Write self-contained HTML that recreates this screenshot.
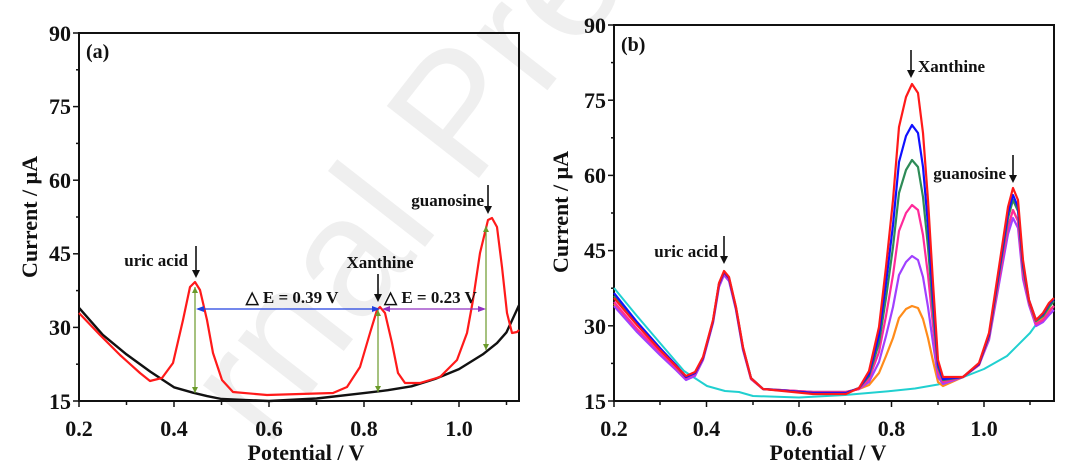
<!DOCTYPE html>
<html><head><meta charset="utf-8"><style>
html,body{margin:0;padding:0;background:#fff;width:1092px;height:466px;overflow:hidden}
svg{display:block}
text{font-family:"Liberation Serif",serif;font-weight:bold;fill:#111}
</style></head><body>
<svg width="1092" height="466" viewBox="0 0 1092 466" xmlns="http://www.w3.org/2000/svg">
<text x="0" y="0" transform="translate(450,215) rotate(-52)" font-size="170" style="fill:#efefef;font-family:'Liberation Sans',sans-serif;font-weight:normal" text-anchor="middle">rnal Pre</text>

<!-- Panel a -->
<g stroke="#111" stroke-width="1.5">
<rect x="79" y="33" width="440" height="368" fill="none" stroke-width="2"/>
<line x1="79" y1="33" x2="73" y2="33"/><line x1="79" y1="69.8" x2="76" y2="69.8"/><line x1="79" y1="106.6" x2="73" y2="106.6"/><line x1="79" y1="143.4" x2="76" y2="143.4"/><line x1="79" y1="180.2" x2="73" y2="180.2"/><line x1="79" y1="217" x2="76" y2="217"/><line x1="79" y1="253.8" x2="73" y2="253.8"/><line x1="79" y1="290.6" x2="76" y2="290.6"/><line x1="79" y1="327.4" x2="73" y2="327.4"/><line x1="79" y1="364.2" x2="76" y2="364.2"/><line x1="79" y1="401" x2="73" y2="401"/>
<line x1="79" y1="401" x2="79" y2="407"/><line x1="126.5" y1="401" x2="126.5" y2="405"/><line x1="174" y1="401" x2="174" y2="407"/><line x1="221.5" y1="401" x2="221.5" y2="405"/><line x1="269" y1="401" x2="269" y2="407"/><line x1="316.5" y1="401" x2="316.5" y2="405"/><line x1="364" y1="401" x2="364" y2="407"/><line x1="411.5" y1="401" x2="411.5" y2="405"/><line x1="459" y1="401" x2="459" y2="407"/><line x1="506.5" y1="401" x2="506.5" y2="405"/>
</g>
<g font-size="22" text-anchor="end">
<text x="71" y="41">90</text><text x="71" y="114">75</text><text x="71" y="188">60</text><text x="71" y="261">45</text><text x="71" y="335">30</text><text x="71" y="409">15</text>
</g>
<g font-size="22" text-anchor="middle">
<text x="79" y="436">0.2</text><text x="174" y="436">0.4</text><text x="269" y="436">0.6</text><text x="364" y="436">0.8</text><text x="459" y="436">1.0</text>
</g>
<text x="306" y="460" font-size="22" text-anchor="middle">Potential / V</text>
<text transform="translate(37,217) rotate(-90)" font-size="22" text-anchor="middle">Current / μA</text>
<text x="86" y="58" font-size="20">(a)</text>

<path fill="none" stroke="#111" stroke-width="2.4" stroke-linejoin="round" d="M79,307.8 L102.75,334.8 L126.5,354.4 L150.25,371.6 L174,387.3 L193,392.7 L207,396.1 L221.5,399 L269,401 L316.5,398.5 L364,393.1 L387.75,390.2 L411.5,386.3 L435.25,378.9 L459,369.1 L482.75,354.4 L497,343.1 L506.5,332.3 L519,305.3"/>
<path fill="none" stroke="#ff1a1a" stroke-width="2.2" stroke-linejoin="round" d="M79,313 L100,335 L120,355 L140,373 L150,381 L162,378 L173,363 L183,320 L190,287 L195,282 L200,290 L207,320 L213,353 L222,380 L233,392 L267,395 L333,393 L347,387 L360,367 L370,333 L377,310 L380,307 L385,313 L392,343 L398,373 L405,383 L420,383 L440,377 L457,360 L467,333 L473,300 L480,253 L488,220 L492,218 L497,227 L502,267 L507,313 L512,333 L517,332 L519,330"/>

<g stroke="#6a9a2a" stroke-width="1.2"><line x1="195" y1="287" x2="195" y2="393"/><line x1="378" y1="310" x2="378" y2="392"/><line x1="486" y1="226" x2="486" y2="350"/></g>
<g fill="#6a9a2a">
<path d="M192,293L198,293L195,287Z"/><path d="M192,387L198,387L195,393Z"/>
<path d="M375,316L381,316L378,310Z"/><path d="M375,386L381,386L378,392Z"/>
<path d="M483,232L489,232L486,226Z"/><path d="M483,344L489,344L486,350Z"/>
</g>
<line x1="198" y1="309" x2="378" y2="309" stroke="#2040e0" stroke-width="1.3"/>
<path d="M196,309L204,306L204,312Z M380,309L372,306L372,312Z" fill="#2040e0"/>
<line x1="384" y1="309" x2="484" y2="309" stroke="#9030c0" stroke-width="1.3"/>
<path d="M382,309L390,306L390,312Z M486,309L478,306L478,312Z" fill="#9030c0"/>
<text x="292" y="303" font-size="17" text-anchor="middle">△ E = 0.39 V</text>
<text x="384" y="303" font-size="17">△ E = 0.23 V</text>
<text x="188" y="266" font-size="17" text-anchor="end">uric acid</text>
<text x="380" y="268" font-size="17" text-anchor="middle">Xanthine</text>
<text x="484" y="206" font-size="17" text-anchor="end">guanosine</text>
<g stroke="#111" stroke-width="1.6"><line x1="196" y1="246" x2="196" y2="270"/><line x1="378" y1="274" x2="378" y2="294"/><line x1="488" y1="185" x2="488" y2="206"/></g>
<path d="M192,270L200,270L196,278Z M374,294L382,294L378,302Z M484,206L492,206L488,214Z" fill="#111"/>

<!-- Panel b -->
<g stroke="#111" stroke-width="1.5">
<rect x="614" y="25" width="440" height="376" fill="none" stroke-width="2"/>
<line x1="614" y1="25" x2="608" y2="25"/><line x1="614" y1="62.6" x2="611" y2="62.6"/><line x1="614" y1="100.2" x2="608" y2="100.2"/><line x1="614" y1="137.8" x2="611" y2="137.8"/><line x1="614" y1="175.4" x2="608" y2="175.4"/><line x1="614" y1="213" x2="611" y2="213"/><line x1="614" y1="250.6" x2="608" y2="250.6"/><line x1="614" y1="288.2" x2="611" y2="288.2"/><line x1="614" y1="325.8" x2="608" y2="325.8"/><line x1="614" y1="363.4" x2="611" y2="363.4"/><line x1="614" y1="401" x2="608" y2="401"/>
<line x1="614" y1="401" x2="614" y2="407"/><line x1="660" y1="401" x2="660" y2="405"/><line x1="706.5" y1="401" x2="706.5" y2="407"/><line x1="753" y1="401" x2="753" y2="405"/><line x1="799" y1="401" x2="799" y2="407"/><line x1="845" y1="401" x2="845" y2="405"/><line x1="891.5" y1="401" x2="891.5" y2="407"/><line x1="938" y1="401" x2="938" y2="405"/><line x1="984" y1="401" x2="984" y2="407"/><line x1="1030" y1="401" x2="1030" y2="405"/>
</g>
<g font-size="22" text-anchor="end">
<text x="606" y="33">90</text><text x="606" y="108">75</text><text x="606" y="183">60</text><text x="606" y="258">45</text><text x="606" y="334">30</text><text x="606" y="409">15</text>
</g>
<g font-size="22" text-anchor="middle">
<text x="614" y="436">0.2</text><text x="706.5" y="436">0.4</text><text x="799" y="436">0.6</text><text x="891.5" y="436">0.8</text><text x="984" y="436">1.0</text>
</g>
<text x="828" y="460" font-size="22" text-anchor="middle">Potential / V</text>
<text transform="translate(568,212) rotate(-90)" font-size="22" text-anchor="middle">Current / μA</text>
<text x="621" y="51" font-size="20">(b)</text>

<path fill="none" stroke="#20d0d0" stroke-width="2" stroke-linejoin="round" d="M614,288 L637,316 L660,343 L684,371 L707,386 L725,391 L739,392 L753,396 L799,397.5 L845,395 L891,391 L915,388.5 L938,384.5 L961,378 L984,369 L1007,356 L1030,333 L1053,301"/>

<g fill="none" stroke-width="2.2" stroke-linejoin="round">
<path stroke="#ff8c1a" d="M614,304 L637,330 L660,353 L676,368 L686,378 L695,374 L703,359 L713,322 L719,285 L724,273 L729,279 L736,309 L743,349 L751,379 L763,389 L813,392 L846,392 L859,389 L869,385 L879,373 L886,356 L893,338 L899,318 L906,309 L912,306 L918,308 L923,319 L928,338 L933,361 L938,382 L943,386 L963,377 L979,365 L989,338 L999,280 L1008,227 L1013,210 L1018,221 L1023,274 L1029,302 L1036,322 L1043,318 L1049,310 L1054,306"/>
<path stroke="#a040ff" d="M614,306 L637,332 L660,355 L676,370 L686,380 L695,376 L703,360 L713,323 L719,287 L724,275 L729,281 L736,310 L743,350 L751,379 L763,389 L813,392 L846,392 L859,389 L869,382 L879,362 L886,336 L893,307 L899,275 L906,262 L912,256 L918,260 L923,277 L928,307 L933,343 L938,377 L943,384 L963,377 L979,365 L989,340 L999,284 L1008,234 L1013,218 L1018,228 L1023,279 L1029,305 L1036,326 L1043,322 L1049,315 L1054,310"/>
<path stroke="#ff2a9a" d="M614,302 L637,329 L660,352 L676,368 L686,378 L695,374 L703,359 L713,322 L719,285 L724,273 L729,279 L736,309 L743,349 L751,379 L763,389 L813,392 L846,392 L859,389 L869,379 L879,352 L886,316 L893,275 L899,231 L906,213 L912,205 L918,210 L923,235 L928,275 L933,325 L938,372 L943,382 L963,377 L979,365 L989,338 L999,280 L1008,227 L1013,210 L1018,221 L1023,274 L1029,303 L1036,324 L1043,320 L1049,312 L1054,306"/>
<path stroke="#2e8b57" d="M614,296 L637,324 L660,349 L676,366 L686,377 L695,373 L703,358 L713,321 L719,284 L724,272 L729,278 L736,308 L743,348 L751,378 L763,389 L813,393 L846,393 L859,388 L869,376 L879,343 L886,298 L893,247 L899,193 L906,170 L912,160 L918,167 L923,197 L928,247 L933,310 L938,367 L943,380 L963,377 L979,364 L989,336 L999,274 L1008,218 L1013,200 L1018,211 L1023,267 L1029,301 L1036,321 L1043,316 L1049,307 L1054,301"/>
<path stroke="#1010ff" d="M614,293 L637,322 L660,348 L676,365 L686,377 L695,373 L703,358 L713,321 L719,284 L724,272 L729,278 L736,308 L743,348 L751,378 L763,389 L813,393 L846,393 L859,388 L869,374 L879,335 L886,283 L893,225 L899,162 L906,136 L912,125 L918,133 L923,167 L928,225 L933,297 L938,364 L943,379 L963,377 L979,364 L989,335 L999,271 L1008,213 L1013,195 L1018,207 L1023,264 L1029,300 L1036,320 L1043,314 L1049,304 L1054,299"/>
<path stroke="#ff1a1a" d="M614,298 L637,325 L660,350 L676,366 L686,376 L695,372 L703,357 L713,320 L719,283 L724,271 L729,277 L736,307 L743,347 L751,378 L763,389 L813,394 L846,394 L859,388 L869,371 L879,327 L886,267 L893,200 L899,127 L906,97 L912,84 L918,93 L923,133 L928,200 L933,283 L938,360 L943,377 L963,377 L979,363 L989,333 L999,267 L1008,207 L1013,188 L1018,200 L1023,260 L1029,300 L1036,320 L1043,313 L1049,303 L1054,298"/>
</g>

<text x="718" y="257" font-size="17" text-anchor="end">uric acid</text>
<text x="918" y="72" font-size="17">Xanthine</text>
<text x="1006" y="179" font-size="17" text-anchor="end">guanosine</text>
<g stroke="#111" stroke-width="1.6"><line x1="724" y1="236" x2="724" y2="256"/><line x1="911" y1="50" x2="911" y2="70"/><line x1="1013" y1="155" x2="1013" y2="175"/></g>
<path d="M720,256L728,256L724,264Z M907,70L915,70L911,78Z M1009,175L1017,175L1013,183Z" fill="#111"/>
</svg>
</body></html>
